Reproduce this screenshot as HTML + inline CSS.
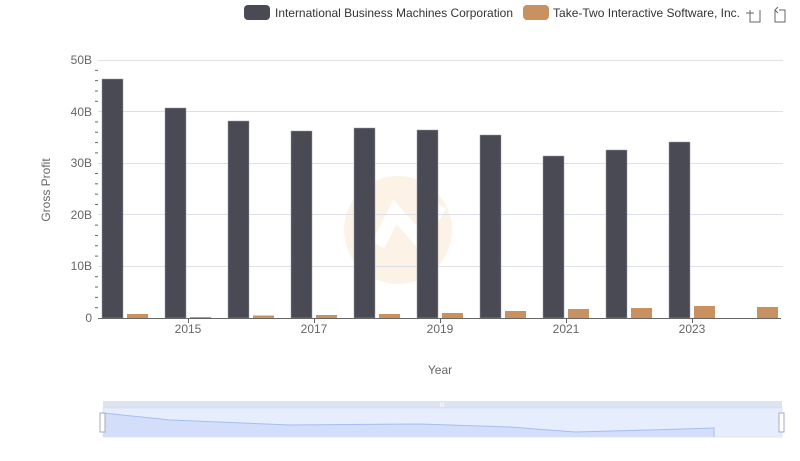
<!DOCTYPE html>
<html><head><meta charset="utf-8"><style>
body{margin:0;background:#fff;}
svg{display:block;font-family:"Liberation Sans",sans-serif;}
</style></head><body>
<svg width="800" height="461" viewBox="0 0 800 461">
<!-- legend -->
<rect x="244" y="5" width="26" height="15" rx="4" fill="#4a4a55"/>
<text x="275" y="17" font-size="12" fill="#333" textLength="238" lengthAdjust="spacingAndGlyphs">International Business Machines Corporation</text>
<rect x="523" y="5" width="26" height="15" rx="4" fill="#c8915f"/>
<text x="553" y="17" font-size="12" fill="#333" textLength="187" lengthAdjust="spacingAndGlyphs">Take-Two Interactive Software, Inc.</text>
<g stroke="#666" fill="none" stroke-width="1">
<path d="M750 10v12h10v-12M746 13h8"/>
<path d="M775 10v12h10v-12h-6M778 7l-3 3 3 3"/>
</g>
<!-- watermark -->
<circle cx="398" cy="230" r="54" fill="#fbf0e0" opacity="0.8"/>
<path d="M378 245 L395 212 L420 240 L440 205" stroke="#fff" stroke-width="14" fill="none"/>
<!-- grid -->
<g stroke="#dde0ea" stroke-width="1">
<line x1="98" x2="783" y1="60.5" y2="60.5"/>
<line x1="98" x2="783" y1="111.5" y2="111.5"/>
<line x1="98" x2="783" y1="163.5" y2="163.5"/>
<line x1="98" x2="783" y1="214.5" y2="214.5"/>
<line x1="98" x2="783" y1="266.5" y2="266.5"/>
</g>
<g font-size="12" fill="#666" text-anchor="end">
<text x="92" y="64">50B</text><text x="92" y="116">40B</text><text x="92" y="167">30B</text><text x="92" y="219">20B</text><text x="92" y="270">10B</text><text x="92" y="322">0</text>
</g>
<g stroke="#666" stroke-width="1" id="mt">
</g>
<text transform="translate(50,190) rotate(-90)" font-size="12" fill="#666" text-anchor="middle">Gross Profit</text>
<!-- bars -->
<g fill="#4a4a55" stroke="#9a9aa8" stroke-width="0.5">
<rect x="102" y="79" width="21" height="239"/>
<rect x="165" y="108" width="21" height="210"/>
<rect x="228" y="121" width="21" height="197"/>
<rect x="291" y="131" width="21" height="187"/>
<rect x="354" y="128" width="21" height="190"/>
<rect x="417" y="130" width="21" height="188"/>
<rect x="480" y="135" width="21" height="183"/>
<rect x="543" y="156" width="21" height="162"/>
<rect x="606" y="150" width="21" height="168"/>
<rect x="669" y="142" width="21" height="176"/>
</g>
<g fill="#c8915f">
<rect x="127" y="314" width="21" height="4"/>
<rect x="190" y="317" width="21" height="1"/>
<rect x="253" y="315.5" width="21" height="2.5"/>
<rect x="316" y="315" width="21" height="3"/>
<rect x="379" y="314" width="21" height="4"/>
<rect x="442" y="313" width="21" height="5"/>
<rect x="505" y="311" width="21" height="7"/>
<rect x="568" y="309" width="21" height="9"/>
<rect x="631" y="308" width="21" height="10"/>
<rect x="694" y="306" width="21" height="12"/>
<rect x="757" y="307" width="21" height="11"/>
</g>
<line x1="98" x2="781" y1="318.5" y2="318.5" stroke="#666"/>
<g stroke="#666"><line x1="188.5" x2="188.5" y1="318" y2="323"/><line x1="314.5" x2="314.5" y1="318" y2="323"/><line x1="440.5" x2="440.5" y1="318" y2="323"/><line x1="566.5" x2="566.5" y1="318" y2="323"/><line x1="692.5" x2="692.5" y1="318" y2="323"/></g>
<g font-size="12" fill="#666" text-anchor="middle">
<text x="188" y="333">2015</text><text x="314" y="333">2017</text><text x="440" y="333">2019</text><text x="566" y="333">2021</text><text x="692" y="333">2023</text>
<text x="440" y="374">Year</text>
</g>
<!-- zoom slider -->
<rect x="103" y="401" width="679" height="7" fill="#dde3f0"/>
<rect x="103" y="408" width="679" height="29" fill="#e6edfc" stroke="#d0d8ea" stroke-width="0.5"/>
<path d="M103 413 L170 420 L290 425 L420 424 L510 427 L575 432 L650 430 L714 428 L714 437 L103 437Z" fill="#d2defa"/>
<path d="M103 413 L170 420 L290 425 L420 424 L510 427 L575 432 L650 430 L714 428 L714 437" fill="none" stroke="#a8bdf0"/>
<rect x="100" y="413" width="5" height="19" fill="#fff" stroke="#aab" stroke-width="1"/>
<rect x="779" y="413" width="5" height="19" fill="#fff" stroke="#aab" stroke-width="1"/>
<text x="442" y="407" font-size="6" fill="#fff" text-anchor="middle">III</text>
</svg>
<script>
var g=document.getElementById('mt'),s='';
for(var v=2;v<50;v+=2){if(v%10==0)continue;var y=318-v*5.16;s+='<line x1="95" x2="98" y1="'+y+'" y2="'+y+'"/>';}
g.innerHTML=s;
</script>
</body></html>
